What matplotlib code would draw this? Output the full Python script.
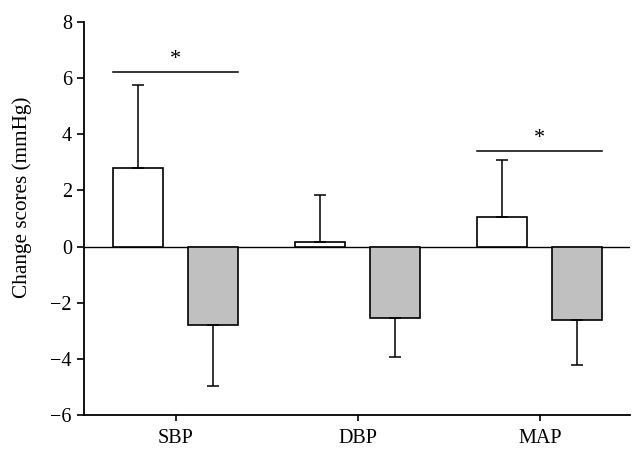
import matplotlib
matplotlib.use('Agg')
import matplotlib.pyplot as plt
import numpy as np

plt.rcParams['font.family'] = ['Liberation Serif', 'DejaVu Serif']

groups = ['SBP', 'DBP', 'MAP']
# change scores (mmHg), white = first group, gray = second group
white_means = [2.8, 0.15, 1.05]
white_err = [2.95, 1.7, 2.02]
gray_means = [-2.8, -2.55, -2.62]
gray_err = [2.18, 1.37, 1.6]
# significance brackets: (group index, line height, label)
sig = [(0, 6.22, '*'), (2, 3.40, '*')]

ind = np.arange(len(groups))
width = 0.275
off = 0.206

fig = plt.figure(figsize=(6.44, 4.58), dpi=100)
ax = fig.add_axes([0.130, 0.094, 0.848, 0.858])

ax.bar(ind - off, white_means, width, color='white', edgecolor='black', linewidth=1.2,
       yerr=[np.zeros(3), white_err], error_kw=dict(ecolor='black', elinewidth=1.1,
                                                    capsize=4.3, capthick=1.1))
ax.bar(ind + off, gray_means, width, color='#c0c0c0', edgecolor='black', linewidth=1.2,
       yerr=[gray_err, np.zeros(3)], error_kw=dict(ecolor='black', elinewidth=1.1,
                                                   capsize=4.3, capthick=1.1))

ax.axhline(0, color='black', linewidth=1.0, zorder=0)

for i, h, lab in sig:
    ax.plot([i - off - width / 2, i + off + width / 2], [h, h], color='black', linewidth=1.1)
    ax.text(i, h + 0.12, lab, ha='center', va='bottom', fontsize=16)

ax.set_xlim(-0.505, 2.495)
ax.set_ylim(-6, 8)
ax.set_yticks(np.arange(-6, 9, 2))
ax.set_yticklabels([str(v).replace('-', '\u2212') for v in range(-6, 9, 2)])
ax.set_xticks(ind)
ax.set_xticklabels(groups)
ax.set_ylabel('Change scores (mmHg)', fontsize=15.3)
ax.yaxis.set_label_coords(-0.095, 0.555)
ax.tick_params(labelsize=14.5, width=1.2, direction='out')
ax.tick_params(axis='y', length=5)
ax.tick_params(axis='x', length=4, pad=6)
ax.spines['top'].set_visible(False)
ax.spines['right'].set_visible(False)
ax.spines['left'].set_linewidth(1.3)
ax.spines['bottom'].set_linewidth(1.3)

fig.savefig('out.png', dpi=100)
